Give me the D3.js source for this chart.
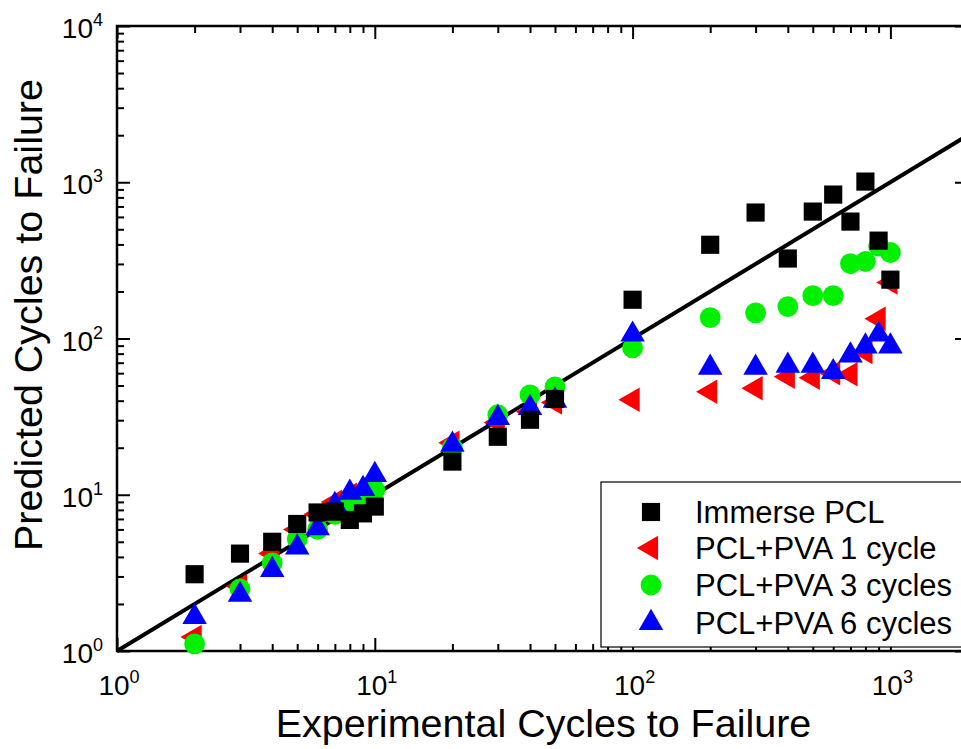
<!DOCTYPE html>
<html lang="en">
<head>
  <meta charset="UTF-8">
  <title>Predicted vs Experimental Cycles to Failure</title>
  <script src="https://d3js.org/d3.v7.min.js"></script>
  <style>
    body, html { margin: 0; padding: 0; background: #fff; }
    svg { display: block; font-family: "Liberation Sans", Arial, sans-serif; }
    .axis path { display: none; }
    .axis line { stroke: #000; stroke-width: 2; }
  </style>
</head>
<body>
  <svg id="chart" width="961" height="749"></svg>

  <script>
    // experimental cycles (x) shared by every series
    const expCycles = [2, 3, 4, 5, 6, 7, 8, 9, 10, 20, 30, 40, 50, 100, 200, 300, 400, 500, 600, 700, 800, 900, 1000];

    // predicted cycles to failure (y)
    const immersePCL = [3.1, 4.2, 5.0, 6.5, 7.7, 7.8, 6.9, 7.6, 8.4, 16.3, 23.5, 30.2, 41, 177, 398, 640, 325, 649, 834, 560, 1010, 423, 238];
    const pva1Cycle  = [1.23, 2.6, 4.2, 6.0, 7.5, 9, 10, 10.5, 11, 21.5, 29, 34, 39, 40.5, 45.6, 48, 57, 56, 60, 59, 82, 134, 228];
    const pva3Cycles = [1.11, 2.5, 3.66, 5.2, 6.0, 7.5, 8.9, 9.5, 10.7, 20, 32.5, 43.6, 49, 87, 136, 146, 160, 188, 188, 301, 311, 390, 355];
    const pva6Cycles = [1.65, 2.29, 3.3, 4.6, 6.1, 8.6, 10.3, 10.9, 13.4, 20.9, 31, 36, 40, 106, 65, 65, 67, 67, 61, 78, 89, 106, 89];

    const seriesNames = ["Immerse PCL", "PCL+PVA 1 cycle", "PCL+PVA 3 cycles", "PCL+PVA 6 cycles"];
    const xMajorTicks = [1, 10, 100, 1000];
    const yMajorTicks = [1, 10, 100, 1000, 10000];

    const series = [
      { name: seriesNames[0], values: immersePCL, color: "#000000", shape: "square" },
      { name: seriesNames[1], values: pva1Cycle,  color: "#ff0000", shape: "left" },
      { name: seriesNames[2], values: pva3Cycles, color: "#00f000", shape: "circle" },
      { name: seriesNames[3], values: pva6Cycles, color: "#0000ff", shape: "up" }
    ];

    const svg = d3.select("#chart");
    const plotLeft = 117, plotRight = 968, plotTop = 26, plotBottom = 651;

    const x = d3.scaleLog().domain([1, 2000]).range([plotLeft, plotRight]);
    const y = d3.scaleLog().domain([1, 10000]).range([plotBottom, plotTop]);

    function symbolPath(shape) {
      if (shape === "square") return d3.symbol(d3.symbolSquare, 330)();
      if (shape === "circle") return d3.symbol(d3.symbolCircle, 340)();
      return d3.symbol(d3.symbolTriangle, 260)();
    }
    function symbolRotate(shape) {
      return shape === "left" ? " rotate(-90)" : "";
    }

    const isMajor = v => Math.abs(Math.log10(v) - Math.round(Math.log10(v))) < 1e-9;
    const xMinor = x.ticks().filter(v => !isMajor(v));
    const yMinor = y.ticks().filter(v => !isMajor(v));

    // inward ticks on all four sides
    const g = svg.append("g");
    g.append("g").attr("class", "axis").attr("transform", `translate(0,${plotBottom})`)
      .call(d3.axisBottom(x).tickValues(xMajorTicks).tickSize(-13).tickFormat(""));
    g.append("g").attr("class", "axis").attr("transform", `translate(0,${plotBottom})`)
      .call(d3.axisBottom(x).tickValues(xMinor).tickSize(-7).tickFormat(""));
    g.append("g").attr("class", "axis").attr("transform", `translate(0,${plotTop})`)
      .call(d3.axisTop(x).tickValues(xMajorTicks).tickSize(-13).tickFormat(""));
    g.append("g").attr("class", "axis").attr("transform", `translate(0,${plotTop})`)
      .call(d3.axisTop(x).tickValues(xMinor).tickSize(-7).tickFormat(""));
    g.append("g").attr("class", "axis").attr("transform", `translate(${plotLeft},0)`)
      .call(d3.axisLeft(y).tickValues(yMajorTicks).tickSize(-13).tickFormat(""));
    g.append("g").attr("class", "axis").attr("transform", `translate(${plotLeft},0)`)
      .call(d3.axisLeft(y).tickValues(yMinor).tickSize(-7).tickFormat(""));
    g.append("g").attr("class", "axis").attr("transform", `translate(${plotRight},0)`)
      .call(d3.axisRight(y).tickValues(yMajorTicks).tickSize(-13).tickFormat(""));
    g.append("g").attr("class", "axis").attr("transform", `translate(${plotRight},0)`)
      .call(d3.axisRight(y).tickValues(yMinor).tickSize(-7).tickFormat(""));

    // frame
    svg.append("rect")
      .attr("x", plotLeft).attr("y", plotTop)
      .attr("width", plotRight - plotLeft).attr("height", plotBottom - plotTop)
      .attr("fill", "none").attr("stroke", "#000").attr("stroke-width", 2.5);

    // tick labels as 10^n
    function powerLabel(sel, exp) {
      sel.append("tspan").text("10");
      sel.append("tspan").attr("dy", -12).attr("font-size", 18).text(exp);
    }
    xMajorTicks.forEach(v => {
      const t = svg.append("text")
        .attr("x", x(v) + 2).attr("y", plotBottom + 44)
        .attr("text-anchor", "middle").attr("font-size", 28);
      powerLabel(t, Math.round(Math.log10(v)));
    });
    yMajorTicks.forEach(v => {
      const t = svg.append("text")
        .attr("x", 103).attr("y", y(v) + 12)
        .attr("text-anchor", "end").attr("font-size", 28);
      powerLabel(t, Math.round(Math.log10(v)));
    });

    // axis titles
    svg.append("text")
      .attr("x", (plotLeft + plotRight) / 2 + 1).attr("y", 737)
      .attr("text-anchor", "middle").attr("font-size", 39.5)
      .text("Experimental Cycles to Failure");
    svg.append("text")
      .attr("transform", "translate(42,315) rotate(-90)")
      .attr("text-anchor", "middle").attr("font-size", 39.5)
      .text("Predicted Cycles to Failure");

    // y = x reference line
    const plot = svg.append("g");
    const lineDomain = [1, 2000];
    plot.append("path")
      .datum(lineDomain)
      .attr("d", d3.line().x(d => x(d)).y(d => y(d)))
      .attr("stroke", "#000").attr("stroke-width", 4).attr("fill", "none");

    // points: drawn red, green, blue, then black on top
    const drawOrder = [1, 2, 3, 0];
    drawOrder.forEach(i => {
      const s = series[i];
      plot.append("g").selectAll("path")
        .data(expCycles.map((c, j) => [c, s.values[j]]))
        .enter().append("path")
        .attr("d", symbolPath(s.shape))
        .attr("transform", d => `translate(${x(d[0])},${y(d[1])})` + symbolRotate(s.shape))
        .attr("fill", s.color);
    });

    // legend
    const legend = svg.append("g");
    legend.append("rect")
      .attr("x", 601).attr("y", 482).attr("width", 366).attr("height", 165)
      .attr("fill", "#fff").attr("stroke", "#000").attr("stroke-width", 1.2);
    const rowY = [512, 548, 585, 623];
    series.forEach((s, i) => {
      legend.append("path")
        .attr("d", symbolPath(s.shape))
        .attr("transform", `translate(651,${rowY[i]})` + symbolRotate(s.shape))
        .attr("fill", s.color);
      legend.append("text")
        .attr("x", 695).attr("y", rowY[i] + 11)
        .attr("font-size", 31)
        .text(s.name);
    });
  </script>
</body>
</html>
